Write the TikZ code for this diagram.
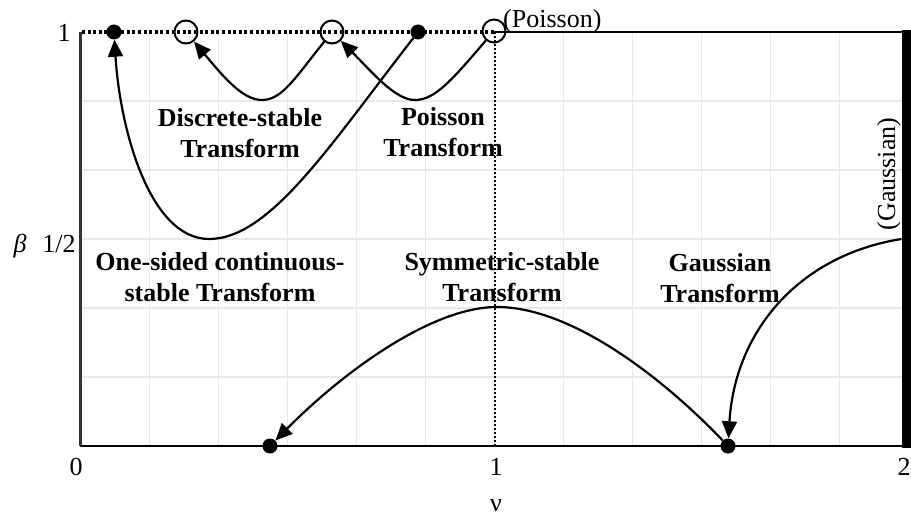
\documentclass[tikz,border=0pt]{standalone}
\usepackage{fontspec}
\setmainfont{Liberation Serif}
\usetikzlibrary{arrows.meta}
\begin{document}
\begin{tikzpicture}[x=1pt,y=-1pt,
  gridline/.style={draw=black!9, line width=1.6pt},
  fdot/.style={circle, fill=black, inner sep=0pt, minimum size=15pt},
  odot/.style={circle, draw=black, line width=2pt, inner sep=0pt, minimum size=23pt},
  arr/.style={line width=2.2pt, -{Triangle[length=17pt,width=15pt]}},
  lab/.style={font=\fontsize{26}{31}\selectfont\bfseries, align=center, inner sep=0pt},
  txt/.style={font=\fontsize{26}{31}\selectfont, inner sep=0pt},
]
\useasboundingbox (0,0) rectangle (911,516);
% grid
\foreach \i in {1,...,11} {
  \draw[gridline] ({80.5+69*\i},32) -- ({80.5+69*\i},446);
}
\foreach \j in {1,...,5} {
  \draw[gridline] (80.5,{446-69*\j}) -- (906,{446-69*\j});
}
% axes
\draw[line width=2.2pt, black!80] (80.5,32) -- (80.5,446);
\draw[line width=2.8pt] (79.5,446) -- (906,446);
\draw[line width=3.4pt, dash pattern=on 3pt off 2.6pt] (82,32) -- (494,32);
\draw[line width=2pt] (494,32) -- (906,32);
\draw[line width=2.2pt, dash pattern=on 2pt off 2pt] (495,32) -- (495,446);
\draw[line width=9.5pt] (906.5,30.5) -- (906.5,447.5);
% points
\node[fdot] (f1) at (114,32) {};
\node[odot] (o1) at (186,32) {};
\node[odot] (o2) at (332,32) {};
\node[fdot] (f2) at (418,32) {};
\node[odot] (o3) at (494,31) {};
\node[fdot] (f3) at (270,446) {};
\node[fdot] (f4) at (728,446) {};
\coordinate (g) at (901.5,239);
% axis labels
\node[txt] (y1) at (64,33) {1};
\node[txt, anchor=base] (beta) at (20,252) {\itshape β};
\node[txt, anchor=base] (yh) at (59,252) {1/2};
\node[txt, anchor=base] (x0) at (76,475) {0};
\node[txt, anchor=base] (x1) at (496,475) {1};
\node[txt, anchor=base] (x2) at (904,475) {2};
\node[txt, anchor=base] (nu) at (496,511) {ν};
\node[txt, anchor=base west] (pois) at (503,28) {(Poisson)};
\node[txt, anchor=base, rotate=90] (gaus) at (895,174) {(Gaussian)};
% transform labels
\node[lab] (ld) at (240,133) {Discrete-stable\\Transform};
\node[lab] (lp) at (443,132) {Poisson\\Transform};
\node[lab] (lo) at (220,277) {One-sided continuous-\\stable Transform};
\node[lab] (ls) at (502,277) {Symmetric-stable\\Transform};
\node[lab] (lg) at (720,278) {Gaussian\\Transform};
% connectors
\draw[arr] (o2) .. controls (295,78) and (282,100) .. (262,100)
              .. controls (242,100) and (222,75) .. (o1);
\draw[arr] (o3) .. controls (452,80) and (435,100) .. (415,100)
              .. controls (395,100) and (372,72) .. (o2);
\draw[arr] (f2) .. controls (330,145) and (270,239) .. (209,239)
              .. controls (150,239) and (120,130) .. (f1);
\draw[arr] (f4) .. controls (660,375) and (570,307) .. (497,307)
              .. controls (430,307) and (340,375) .. (f3);
\draw[arr] (g) .. controls (800,255) and (735,330) .. (f4);
\end{tikzpicture}
\end{document}
